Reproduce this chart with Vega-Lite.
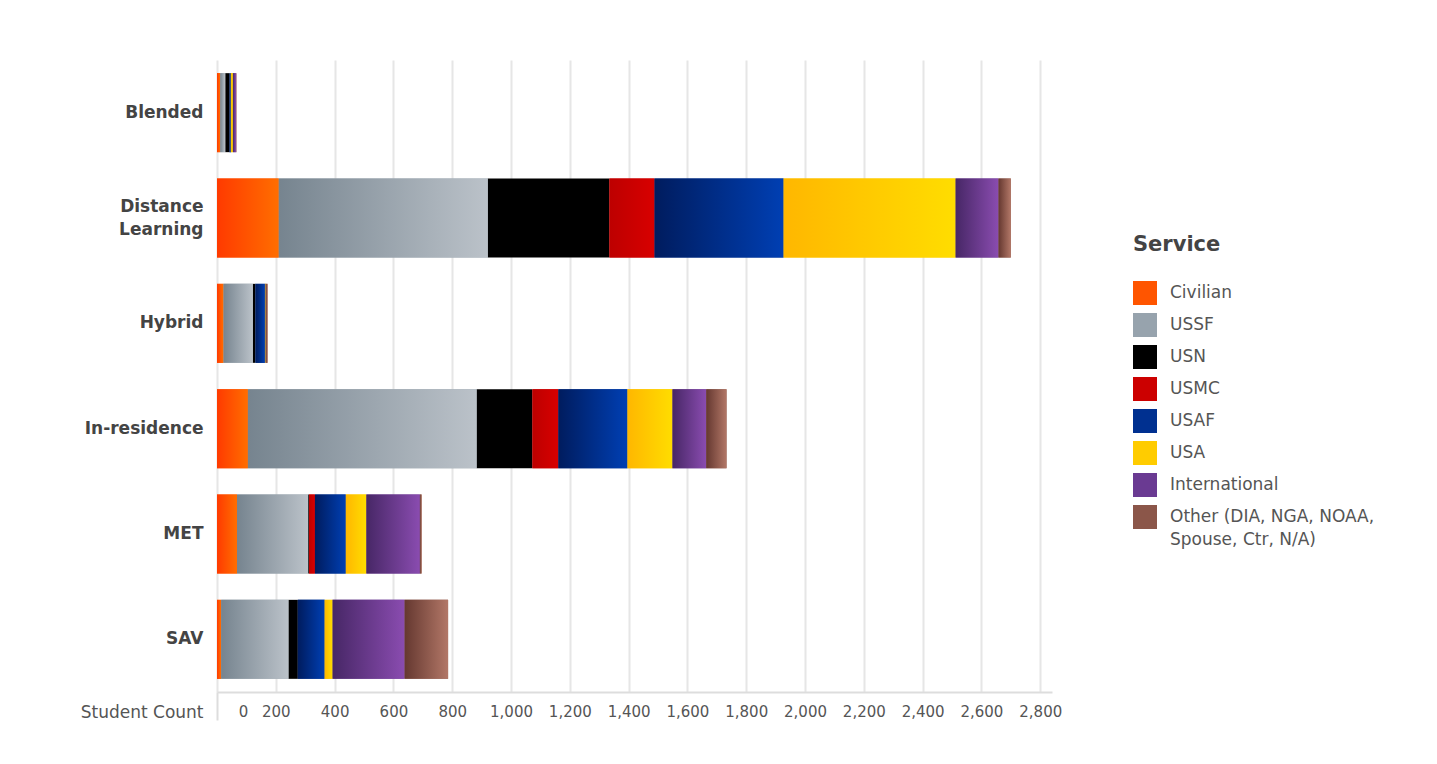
{
  "$schema": "https://vega.github.io/schema/vega-lite/v6.json",
  "autosize": {"type": "none"},
  "width": 835,
  "height": 632,
  "padding": {"left": 217, "top": 60, "right": 385, "bottom": 72},
  "background": "white",
  "config": {
    "font": "DejaVu Sans",
    "view": {"stroke": null}
  },
  "data": {
    "values": [
      {"mode": "Blended", "service": "Civilian", "count": 11},
      {"mode": "Blended", "service": "USSF", "count": 17},
      {"mode": "Blended", "service": "USN", "count": 15},
      {"mode": "Blended", "service": "USMC", "count": 0},
      {"mode": "Blended", "service": "USAF", "count": 4},
      {"mode": "Blended", "service": "USA", "count": 7},
      {"mode": "Blended", "service": "International", "count": 11},
      {"mode": "Blended", "service": "Other (DIA, NGA, NOAA, Spouse, Ctr, N/A)", "count": 1},
      {"mode": "Distance Learning", "service": "Civilian", "count": 210},
      {"mode": "Distance Learning", "service": "USSF", "count": 711},
      {"mode": "Distance Learning", "service": "USN", "count": 414},
      {"mode": "Distance Learning", "service": "USMC", "count": 153},
      {"mode": "Distance Learning", "service": "USAF", "count": 439},
      {"mode": "Distance Learning", "service": "USA", "count": 585},
      {"mode": "Distance Learning", "service": "International", "count": 146},
      {"mode": "Distance Learning", "service": "Other (DIA, NGA, NOAA, Spouse, Ctr, N/A)", "count": 42},
      {"mode": "Hybrid", "service": "Civilian", "count": 22},
      {"mode": "Hybrid", "service": "USSF", "count": 100},
      {"mode": "Hybrid", "service": "USN", "count": 9},
      {"mode": "Hybrid", "service": "USMC", "count": 0},
      {"mode": "Hybrid", "service": "USAF", "count": 32},
      {"mode": "Hybrid", "service": "USA", "count": 2},
      {"mode": "Hybrid", "service": "International", "count": 1},
      {"mode": "Hybrid", "service": "Other (DIA, NGA, NOAA, Spouse, Ctr, N/A)", "count": 6},
      {"mode": "In-residence", "service": "Civilian", "count": 105},
      {"mode": "In-residence", "service": "USSF", "count": 778},
      {"mode": "In-residence", "service": "USN", "count": 190},
      {"mode": "In-residence", "service": "USMC", "count": 88},
      {"mode": "In-residence", "service": "USAF", "count": 235},
      {"mode": "In-residence", "service": "USA", "count": 153},
      {"mode": "In-residence", "service": "International", "count": 115},
      {"mode": "In-residence", "service": "Other (DIA, NGA, NOAA, Spouse, Ctr, N/A)", "count": 69},
      {"mode": "MET", "service": "Civilian", "count": 68},
      {"mode": "MET", "service": "USSF", "count": 242},
      {"mode": "MET", "service": "USN", "count": 3},
      {"mode": "MET", "service": "USMC", "count": 20},
      {"mode": "MET", "service": "USAF", "count": 105},
      {"mode": "MET", "service": "USA", "count": 70},
      {"mode": "MET", "service": "International", "count": 182},
      {"mode": "MET", "service": "Other (DIA, NGA, NOAA, Spouse, Ctr, N/A)", "count": 6},
      {"mode": "SAV", "service": "Civilian", "count": 14},
      {"mode": "SAV", "service": "USSF", "count": 229},
      {"mode": "SAV", "service": "USN", "count": 32},
      {"mode": "SAV", "service": "USMC", "count": 0},
      {"mode": "SAV", "service": "USAF", "count": 91},
      {"mode": "SAV", "service": "USA", "count": 27},
      {"mode": "SAV", "service": "International", "count": 245},
      {"mode": "SAV", "service": "Other (DIA, NGA, NOAA, Spouse, Ctr, N/A)", "count": 148}
    ]
  },
  "transform": [
    {"calculate": "indexof(['Civilian','USSF','USN','USMC','USAF','USA','International','Other (DIA, NGA, NOAA, Spouse, Ctr, N/A)'], datum.service)", "as": "svcOrder"},
    {"stack": "count", "groupby": ["mode"], "sort": [{"field": "svcOrder", "order": "ascending"}], "as": ["x0", "x1"]}
  ],
  "encoding": {
    "y": {
      "field": "mode",
      "type": "nominal",
      "sort": ["Blended", "Distance Learning", "Hybrid", "In-residence", "MET", "SAV"],
      "scale": {"paddingInner": 0.25, "paddingOuter": 0.125},
      "axis": {
        "title": null,
        "domain": false,
        "ticks": false,
        "grid": false,
        "labelFontSize": 17,
        "labelFontWeight": "bold",
        "labelColor": "#444444",
        "labelPadding": 14,
        "labelLineHeight": 23,
        "labelExpr": "datum.label == 'Distance Learning' ? ['Distance', 'Learning'] : datum.label",
        "labelOffset": {"condition": {"test": "datum.value == 'Distance Learning'", "value": -11}, "value": 0}
      }
    },
    "x": {
      "field": "x0",
      "type": "quantitative",
      "scale": {"domain": [0, 2840], "nice": false},
      "axis": {
        "title": "Student Count",
        "values": [0, 200, 400, 600, 800, 1000, 1200, 1400, 1600, 1800, 2000, 2200, 2400, 2600, 2800],
        "format": ",.0f",
        "grid": true,
        "gridColor": "#e6e6e6",
        "gridWidth": 2,
        "domain": true,
        "domainColor": "#dddddd",
        "domainWidth": 2,
        "ticks": true,
        "tickSize": 28,
        "tickWidth": 2,
        "tickColor": {"condition": {"test": "datum.value == 0", "value": "#dddddd"}, "value": "transparent"},
        "labelFontSize": 15,
        "labelColor": "#555555",
        "labelPadding": -16,
        "labelBound": false,
        "labelFlush": false,
        "labelOverlap": false,
        "labelOffset": {"condition": {"test": "datum.value == 0", "value": 26}, "value": 0},
        "titleFontSize": 17,
        "titleFontWeight": "normal",
        "titleColor": "#555555",
        "titleAlign": "right",
        "titleBaseline": "middle",
        "titleX": -14,
        "titleY": 20
      }
    },
    "x2": {"field": "x1"}
  },
  "layer": [
    {
      "mark": {"type": "bar"},
      "encoding": {
        "color": {
          "field": "service",
          "type": "nominal",
          "scale": {
            "domain": ["Civilian", "USSF", "USN", "USMC", "USAF", "USA", "International", "Other (DIA, NGA, NOAA, Spouse, Ctr, N/A)"],
            "range": ["#ff5500", "#97a3ad", "#000000", "#cc0000", "#003090", "#ffcc00", "#6a3a92", "#8b5649"]
          },
          "legend": {
            "orient": "none",
            "legendX": 916,
            "legendY": 174,
            "title": "Service",
            "titleFontSize": 21,
            "titleFontWeight": "bold",
            "titleColor": "#444444",
            "titlePadding": 26,
            "labelFontSize": 17,
            "labelColor": "#555555",
            "labelLimit": 400,
            "labelOffset": 13,
            "symbolType": "square",
            "symbolSize": 576,
            "symbolStrokeWidth": 0,
            "symbolOpacity": 1,
            "rowPadding": 8,
            "labelExpr": "indexof(datum.label, 'Other') == 0 ? ['Other (DIA, NGA, NOAA,', 'Spouse, Ctr, N/A)'] : datum.label",
            "encode": {"labels": {"update": {"lineHeight": {"value": 23}}}}
          }
        }
      }
    },
    {
      "transform": [{"filter": "datum.service == 'Civilian'"}],
      "mark": {"type": "bar", "color": {"gradient": "linear", "x1": 0, "x2": 1, "y1": 0, "y2": 0, "stops": [{"offset": 0, "color": "#ff3a00"}, {"offset": 1, "color": "#ff6e00"}]}}
    },
    {
      "transform": [{"filter": "datum.service == 'USSF'"}],
      "mark": {"type": "bar", "color": {"gradient": "linear", "x1": 0, "x2": 1, "y1": 0, "y2": 0, "stops": [{"offset": 0, "color": "#76848f"}, {"offset": 1, "color": "#bbc2c9"}]}}
    },
    {
      "transform": [{"filter": "datum.service == 'USMC'"}],
      "mark": {"type": "bar", "color": {"gradient": "linear", "x1": 0, "x2": 1, "y1": 0, "y2": 0, "stops": [{"offset": 0, "color": "#bd0000"}, {"offset": 1, "color": "#d80000"}]}}
    },
    {
      "transform": [{"filter": "datum.service == 'USAF'"}],
      "mark": {"type": "bar", "color": {"gradient": "linear", "x1": 0, "x2": 1, "y1": 0, "y2": 0, "stops": [{"offset": 0, "color": "#001c5e"}, {"offset": 1, "color": "#003fb3"}]}}
    },
    {
      "transform": [{"filter": "datum.service == 'USA'"}],
      "mark": {"type": "bar", "color": {"gradient": "linear", "x1": 0, "x2": 1, "y1": 0, "y2": 0, "stops": [{"offset": 0, "color": "#ffb700"}, {"offset": 1, "color": "#ffdd00"}]}}
    },
    {
      "transform": [{"filter": "datum.service == 'International'"}],
      "mark": {"type": "bar", "color": {"gradient": "linear", "x1": 0, "x2": 1, "y1": 0, "y2": 0, "stops": [{"offset": 0, "color": "#472766"}, {"offset": 1, "color": "#8a4cb0"}]}}
    },
    {
      "transform": [{"filter": "indexof(datum.service, 'Other') == 0"}],
      "mark": {"type": "bar", "color": {"gradient": "linear", "x1": 0, "x2": 1, "y1": 0, "y2": 0, "stops": [{"offset": 0, "color": "#653830"}, {"offset": 1, "color": "#b27767"}]}}
    }
  ]
}
